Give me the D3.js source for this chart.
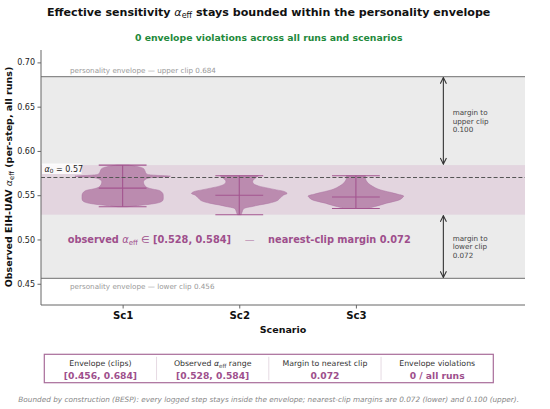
<!DOCTYPE html>
<html><head><meta charset="utf-8">
<script src="https://cdn.jsdelivr.net/npm/d3@7/dist/d3.min.js"></script>
<style>body{margin:0;background:#fff}svg{display:block;font-family:"DejaVu Sans",sans-serif}</style>
</head><body><svg id="c" width="550" height="409"></svg>
<script>
// ---- data ----
const scenarios = ["Sc1", "Sc2", "Sc3"];
const yTicks = [0.45, 0.50, 0.55, 0.60, 0.65, 0.70];
const envelope = [0.456, 0.684];
const observed = [0.528, 0.584];
const alpha0 = 0.57;
const mins = [0.537, 0.528, 0.535];
const maxs = [0.584, 0.572, 0.572];
const medians = [0.558, 0.550, 0.548];
// violin outlines: [value, relative half-width]
const profileSc1 = [[0.537,0.10],[0.5385,0.35],[0.540,0.60],[0.542,0.78],[0.544,0.84],[0.548,0.85],[0.552,0.84],[0.555,0.78],[0.557,0.62],[0.559,0.50],[0.562,0.45],[0.566,0.44],[0.569,0.52],[0.5705,0.85],[0.5715,1.0],[0.5725,0.70],[0.574,0.50],[0.577,0.47],[0.580,0.44],[0.582,0.34],[0.584,0.12]];
const profileSc2 = [[0.528,0.04],[0.531,0.06],[0.534,0.08],[0.5355,0.12],[0.537,0.25],[0.539,0.42],[0.541,0.62],[0.544,0.80],[0.547,0.86],[0.550,0.92],[0.552,1.0],[0.554,0.95],[0.556,0.78],[0.558,0.60],[0.5605,0.40],[0.563,0.30],[0.566,0.28],[0.569,0.33],[0.571,0.38],[0.572,0.40]];
const profileSc3 = [[0.535,0.25],[0.537,0.38],[0.539,0.52],[0.541,0.64],[0.543,0.80],[0.545,0.92],[0.5475,0.98],[0.549,1.0],[0.551,0.88],[0.553,0.74],[0.555,0.58],[0.557,0.46],[0.560,0.35],[0.563,0.27],[0.566,0.22],[0.569,0.20],[0.572,0.20]];
const profiles = [profileSc1, profileSc2, profileSc3];
const marginLower = 0.072, marginUpper = 0.100;
const summaryHeaders = ["Envelope (clips)", "Observed α_eff range", "Margin to nearest clip", "Envelope violations"];
const summaryValues = ["[0.456, 0.684]", "[0.528, 0.584]", "0.072", "0 / all runs"];

// ---- layout ----
const svg = d3.select("#c");
const L = 41, R = 525, T = 50, B = 305;
const x = d3.scaleLinear().domain([-0.7, 3.45]).range([L, R]);
const y = d3.scaleLinear().domain([0.426, 0.714]).range([B, T]);
const purple = "#a3558f", violinFill = "#b47ea7", txtPurple = "#9e4f8c";
const halfW = 0.41;
const cx = 268.7;

// title
const t = svg.append("text").attr("x", cx).attr("y", 15.5).attr("text-anchor", "middle")
  .attr("font-size", 11.1).attr("font-weight", "bold").attr("fill", "#111");
t.append("tspan").text("Effective sensitivity ");
t.append("tspan").attr("font-style", "italic").attr("font-weight", "normal").text("α");
t.append("tspan").attr("font-size", 8).attr("font-weight", "normal").attr("dy", 2.3).text("eff");
t.append("tspan").attr("dy", -2.3).text(" stays bounded within the personality envelope");
svg.append("text").attr("x", cx).attr("y", 41.2).attr("text-anchor", "middle")
  .attr("font-size", 9.3).attr("font-weight", "bold").attr("fill", "#1f8a3c")
  .text("0 envelope violations across all runs and scenarios");

const g = svg.append("g");
// envelope band
g.append("rect").attr("x", L).attr("width", R - L).attr("y", y(envelope[1])).attr("height", y(envelope[0]) - y(envelope[1])).attr("fill", "#ebebeb");
g.append("rect").attr("x", L).attr("width", R - L).attr("y", y(observed[1])).attr("height", y(observed[0]) - y(observed[1])).attr("fill", "#e3d5df");
envelope.forEach(v => g.append("line").attr("x1", L).attr("x2", R).attr("y1", y(v)).attr("y2", y(v)).attr("stroke", "#8a8a8a").attr("stroke-width", 1.3));
g.append("text").attr("x", 70).attr("y", y(envelope[1]) - 3.5).attr("font-size", 7.2).attr("fill", "#999").text("personality envelope — upper clip " + envelope[1].toFixed(3));
g.append("text").attr("x", 70).attr("y", y(envelope[0]) + 11).attr("font-size", 7.2).attr("fill", "#999").text("personality envelope — lower clip " + envelope[0].toFixed(3));

// violins
const area = d3.area().curve(d3.curveCatmullRom)
  .y(d => y(d[0]));
profiles.forEach((p, i) => {
  g.append("path").datum(p)
    .attr("d", area.x0(d => x(i - halfW * d[1])).x1(d => x(i + halfW * d[1])))
    .attr("fill", violinFill).attr("fill-opacity", 0.85).attr("stroke", "#ab72a0").attr("stroke-width", 0.5);
});
profiles.forEach((p, i) => {
  const lw = 1.1;
  g.append("line").attr("x1", x(i)).attr("x2", x(i)).attr("y1", y(mins[i])).attr("y2", y(maxs[i])).attr("stroke", purple).attr("stroke-width", lw);
  [mins[i], maxs[i], medians[i]].forEach(v =>
    g.append("line").attr("x1", x(i - halfW / 2)).attr("x2", x(i + halfW / 2)).attr("y1", y(v)).attr("y2", y(v)).attr("stroke", purple).attr("stroke-width", lw));
});

// alpha0 dashed line
g.append("line").attr("x1", L).attr("x2", R).attr("y1", y(alpha0)).attr("y2", y(alpha0))
  .attr("stroke", "#555").attr("stroke-width", 1.1).attr("stroke-dasharray", "4,2.2");
g.append("rect").attr("x", 42).attr("y", y(alpha0) - 14).attr("width", 39.5).attr("height", 10.5).attr("fill", "#fff").attr("fill-opacity", 0.85);
const a0 = g.append("text").attr("x", 44.5).attr("y", y(alpha0) - 6).attr("font-size", 8).attr("fill", "#222");
a0.append("tspan").attr("font-style", "italic").text("α");
a0.append("tspan").attr("font-size", 5.8).attr("dy", 1.8).text("0");
a0.append("tspan").attr("dy", -1.8).text(" = " + alpha0.toFixed(2));

// margin arrows
const defs = svg.append("defs");
defs.append("marker").attr("id", "ah").attr("viewBox", "0 0 10 10").attr("refX", 9).attr("refY", 5)
  .attr("markerWidth", 7).attr("markerHeight", 7).attr("orient", "auto-start-reverse")
  .append("path").attr("d", "M1,1 L9,5 L1,9").attr("fill", "none").attr("stroke", "#333").attr("stroke-width", 1.4);
const ax = x(2.75);
[[envelope[1], observed[1], "upper", marginUpper], [observed[0], envelope[0], "lower", marginLower]].forEach(([a, b, nm, m]) => {
  g.append("line").attr("x1", ax).attr("x2", ax).attr("y1", y(a) + 1).attr("y2", y(b) - 1)
    .attr("stroke", "#333").attr("stroke-width", 1.1).attr("marker-start", "url(#ah)").attr("marker-end", "url(#ah)");
  const mid = y((a + b) / 2);
  const tx = g.append("text").attr("x", x(2.83)).attr("y", mid - 8.3 + 2.7).attr("font-size", 7.2).attr("fill", "#444");
  ["margin to", nm + " clip", m.toFixed(3)].forEach((s, k) => tx.append("tspan").attr("x", x(2.83)).attr("dy", k ? 8.4 : 0).text(s));
});

// observed annotation
const ot = g.append("text").attr("x", x(1)).attr("y", y(0.50) + 3.6).attr("text-anchor", "middle")
  .attr("font-size", 9.8).attr("font-weight", "bold").attr("fill", txtPurple).attr("xml:space", "preserve");
ot.append("tspan").text("observed ");
ot.append("tspan").attr("font-style", "italic").attr("font-weight", "normal").text("α");
ot.append("tspan").attr("font-size", 7).attr("font-weight", "normal").attr("dy", 2).text("eff");
ot.append("tspan").attr("dy", -2).attr("font-weight", "normal").text(" ∈");
ot.append("tspan").text(" [" + observed[0].toFixed(3) + ", " + observed[1].toFixed(3) + "]    ");
ot.append("tspan").attr("font-weight", "normal").attr("fill-opacity", 0.6).text("—");
ot.append("tspan").text("    nearest-clip margin " + marginLower.toFixed(3));

// axes
const yAxis = d3.axisLeft(y).tickValues(yTicks).tickFormat(d3.format(".2f")).tickSize(3.5).tickPadding(2.5);
const ya = svg.append("g").attr("transform", `translate(${L},0)`).call(yAxis);
ya.select(".domain").attr("d", `M0,${T}V${B}`).attr("stroke", "#666");
ya.selectAll(".tick line").attr("stroke", "#666");
ya.selectAll("text").attr("font-size", 8).attr("fill", "#222").attr("font-family", "DejaVu Sans");
const xAxis = d3.axisBottom(x).tickValues([0, 1, 2]).tickFormat(i => scenarios[i]).tickSize(3.5).tickPadding(3);
const xa = svg.append("g").attr("transform", `translate(0,${B})`).call(xAxis);
xa.select(".domain").attr("d", `M${L},0H${R}`).attr("stroke", "#666");
xa.selectAll(".tick line").attr("stroke", "#666");
xa.selectAll("text").attr("font-size", 10.2).attr("font-weight", "bold").attr("fill", "#111").attr("font-family", "DejaVu Sans");
svg.append("text").attr("x", (L + R) / 2).attr("y", 332.5).attr("text-anchor", "middle").attr("font-size", 9.5).attr("font-weight", "bold").attr("fill", "#111").text("Scenario");
const yl = svg.append("text").attr("transform", `translate(11.5,177) rotate(-90)`).attr("text-anchor", "middle")
  .attr("font-size", 9.5).attr("font-weight", "bold").attr("fill", "#111");
yl.append("tspan").text("Observed EIH-UAV ");
yl.append("tspan").attr("font-style", "italic").attr("font-weight", "normal").text("α");
yl.append("tspan").attr("font-size", 6.8).attr("font-weight", "normal").attr("dy", 2).text("eff");
yl.append("tspan").attr("dy", -2).text(" (per-step, all runs)");

// summary box
const bx0 = 44.3, bx1 = 493.3, by0 = 354.3, by1 = 382.7;
const cw = (bx1 - bx0) / summaryHeaders.length;
svg.append("rect").attr("x", bx0).attr("y", by0).attr("width", bx1 - bx0).attr("height", by1 - by0).attr("fill", "#fff").attr("stroke", "#a86c9a").attr("stroke-width", 1.2);
summaryHeaders.forEach((h, i) => {
  const c = bx0 + cw * (i + 0.5);
  if (i > 0) svg.append("line").attr("x1", bx0 + cw * i).attr("x2", bx0 + cw * i).attr("y1", by0 + 2.5).attr("y2", by1 - 2.5).attr("stroke", "#e6dae3").attr("stroke-width", 1);
  const ht = svg.append("text").attr("x", c).attr("y", 366).attr("text-anchor", "middle").attr("font-size", 7.8).attr("fill", "#333");
  if (h.includes("α_eff")) {
    const [pre, post] = h.split("α_eff");
    ht.append("tspan").text(pre);
    ht.append("tspan").attr("font-style", "italic").text("α");
    ht.append("tspan").attr("font-size", 5.6).attr("dy", 1.7).text("eff");
    ht.append("tspan").attr("dy", -1.7).text(post);
  } else ht.text(h);
  svg.append("text").attr("x", c).attr("y", 379.4).attr("text-anchor", "middle").attr("font-size", 9.2).attr("font-weight", "bold").attr("fill", txtPurple).text(summaryValues[i]);
});
svg.append("text").attr("x", cx).attr("y", 402).attr("text-anchor", "middle").attr("font-size", 7.3).attr("font-style", "italic").attr("fill", "#888")
  .text("Bounded by construction (BESP): every logged step stays inside the envelope; nearest-clip margins are 0.072 (lower) and 0.100 (upper).");
</script></body></html>
